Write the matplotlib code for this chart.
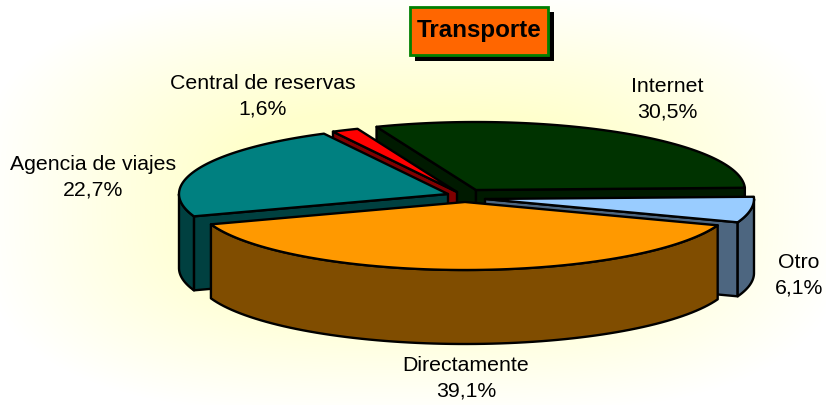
#3D style exploded pie, drawn by hand because matplotlib has no 3D pie
import numpy as np
from matplotlib import pyplot as plt
from matplotlib.patches import Polygon, Rectangle

W, H = 826, 405

LABELS = ['Internet', 'Otro', 'Directamente', 'Agencia de viajes', 'Central de reservas']
VALUES = [30.5, 6.1, 39.1, 22.7, 1.6]
TOPS = ['#003300', '#99CCFF', '#FF9900', '#008080', '#FF0000']
SIDES = ['#001A00', '#4D6680', '#804D00', '#004040', '#800000']

# apex of every exploded slice, in pixels
APEX_X = [476, 485, 465, 448, 457]
APEX_Y = [190, 199, 202, 194, 192]
LABEL_X = [667, 799, 466, 93, 263]
LABEL_Y = [99, 275, 378, 177, 96]
DRAW_ORDER = [0, 4, 3, 1, 2]

START = -21.7
RX, RY = 269, 68
DEPTH = 74

def ellipse_pts(cx, cy, a0, a1, n=80):
    t = np.radians(np.linspace(a0, a1, n))
    return np.column_stack([cx + RX * np.sin(t), cy - RY * np.cos(t)])

def draw_poly(ax, pts, color):
    ax.add_patch(Polygon(pts, closed=True, facecolor=color, edgecolor='black',
                         linewidth=1.7, joinstyle='round'))

def draw_cut(ax, i, angle):
    cx, cy = APEX_X[i], APEX_Y[i]
    apex = np.array([[cx, cy]])
    p = ellipse_pts(cx, cy, angle, angle, 1)
    draw_poly(ax, np.vstack([apex, p, p + [0, DEPTH], apex + [0, DEPTH]]), SIDES[i])

def draw_slice(ax, i, a0, a1):
    cx, cy = APEX_X[i], APEX_Y[i]
    # a cut face shows when it turns towards the viewer
    if np.sin(np.radians(a0)) < 0:
        draw_cut(ax, i, a0)
    if np.sin(np.radians(a1)) > 0:
        draw_cut(ax, i, a1)
    # outer wall, only the front half of the ellipse
    lo, hi = max(a0, 90), min(a1, 270)
    if hi > lo:
        arc = ellipse_pts(cx, cy, lo, hi)
        draw_poly(ax, np.vstack([arc, (arc + [0, DEPTH])[::-1]]), SIDES[i])
    draw_poly(ax, np.vstack([[[cx, cy]], ellipse_pts(cx, cy, a0, a1)]), TOPS[i])

fig = plt.figure(figsize=(W / 100, H / 100), dpi=100)
ax = fig.add_axes([0, 0, 1, 1])
ax.set_xlim(0, W)
ax.set_ylim(H, 0)
ax.axis('off')

# pale yellow glow behind the pie, squarish like the original fill
yy, xx = np.mgrid[0:H, 0:W]
dist = (np.abs((xx - W / 2) / (W / 2)) ** 3 + np.abs((yy - H / 2) / (H / 2)) ** 3) ** (1 / 3)
glow = np.clip((1.05 - dist) / 0.6, 0, 1)[..., None]
img = np.array([1, 1, 1]) * (1 - glow) + np.array([1, 1, 0.8]) * glow
ax.imshow(img, extent=[0, W, H, 0], aspect='auto', zorder=0)

angles = START + np.cumsum([0] + VALUES) * 3.6
for i in DRAW_ORDER:
    draw_slice(ax, i, angles[i], angles[i + 1])

for i, lab in enumerate(LABELS):
    txt = f"{lab}\n{VALUES[i]:.1f}%".replace('.', ',')
    ax.text(LABEL_X[i], LABEL_Y[i], txt, ha='center', va='center', fontsize=15.3,
            family='Liberation Sans', color='black', linespacing=1.45)

ax.add_patch(Rectangle((415, 12), 139, 49, facecolor='black', edgecolor='none', zorder=5))
ax.add_patch(Rectangle((409.5, 6.5), 138, 48, facecolor='#FF6600', edgecolor='#008000',
                       linewidth=2, zorder=6))
ax.text(479, 30, 'Transporte', ha='center', va='center', fontsize=17.4, fontweight='bold',
        family='Liberation Sans', color='black', zorder=7)

plt.savefig('out.png', dpi=100)
plt.close()
